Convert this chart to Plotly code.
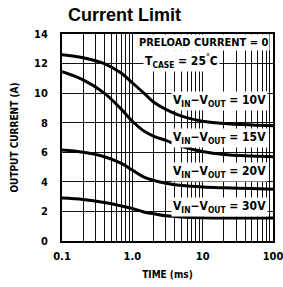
import plotly.graph_objects as go

time_ms = [0.1, 0.2, 0.4, 0.7, 1.0, 1.5, 2, 3, 5, 10, 20, 50, 100]
i_10v = [12.6, 12.4, 12.0, 11.35, 10.7, 9.95, 9.4, 8.9, 8.45, 8.1, 7.95, 7.85, 7.8]
i_15v = [11.45, 10.9, 10.0, 8.9, 8.1, 7.4, 7.1, 6.8, 6.4, 6.05, 5.85, 5.75, 5.7]
i_20v = [6.15, 6.0, 5.7, 5.25, 4.8, 4.3, 4.1, 3.9, 3.75, 3.65, 3.6, 3.55, 3.5]
i_30v = [2.9, 2.8, 2.6, 2.37, 2.2, 1.95, 1.85, 1.7, 1.62, 1.57, 1.55, 1.55, 1.55]

series = [("10V", i_10v), ("15V", i_15v), ("20V", i_20v), ("30V", i_30v)]

y_ticks = [0, 2, 4, 6, 8, 10, 12, 14]
x_tickvals = [0.1, 1, 10, 100]
x_ticktext = ["0.1", "1.0", "10", "100"]

FONT = "DejaVu Sans Condensed, Liberation Sans, Arial, sans-serif"

fig = go.Figure()
for name, vals in series:
    fig.add_trace(go.Scatter(x=time_ms, y=vals, mode="lines", name=name,
                             line=dict(color="black", width=3, shape="spline", smoothing=1.0),
                             showlegend=False))

x_minor = [round(d * k, 6) for d in [0.1, 1, 10] for k in range(2, 10)]

fig.update_xaxes(type="log", range=[-1, 2], tickvals=x_tickvals, ticktext=x_ticktext,
                 showgrid=True, gridcolor="#111", gridwidth=1,
                 minor=dict(tickvals=x_minor, showgrid=True, gridcolor="#111", gridwidth=1, ticks=""),
                 showline=True, linecolor="black", linewidth=2, mirror=True,
                 ticks="", ticklabelstandoff=4, ticklabeloverflow="allow", automargin=False,
                 tickfont=dict(family=FONT, size=11, color="black", weight="bold"),
                 title=dict(text="<b>TIME (ms)</b>", font=dict(family=FONT, size=10, color="black"), standoff=9),
                 zeroline=False)
fig.update_yaxes(range=[0, 14], tickvals=y_ticks,
                 showgrid=True, gridcolor="#111", gridwidth=1,
                 showline=True, linecolor="black", linewidth=2, mirror=True,
                 ticks="", ticklabelstandoff=10, automargin=False,
                 tickfont=dict(family=FONT, size=11, color="black", weight="bold"),
                 title=dict(text="<b>OUTPUT CURRENT (A)</b>", font=dict(family=FONT, size=10, color="black"), standoff=14),
                 zeroline=False)

ann_font = dict(family=FONT, size=12, color="black", weight="bold")
labels = [("V<sub>IN</sub>−V<sub>OUT</sub> = 10V", 9.5),
          ("V<sub>IN</sub>−V<sub>OUT</sub> = 15V", 6.95),
          ("V<sub>IN</sub>−V<sub>OUT</sub> = 20V", 4.65),
          ("V<sub>IN</sub>−V<sub>OUT</sub> = 30V", 2.3)]
for txt, yv in labels:
    fig.add_annotation(x=0.975, xref="paper", y=yv, yref="y", text=txt, showarrow=False,
                       xanchor="right", yanchor="middle", bgcolor="white", font=ann_font, borderpad=1)
fig.add_annotation(x=0.985, xref="paper", y=13.4, yref="y", text="PRELOAD CURRENT = 0", showarrow=False,
                   xanchor="right", yanchor="middle", bgcolor="white",
                   font=dict(family=FONT, size=11, color="black", weight="bold"), borderpad=1)
fig.add_annotation(x=0.385, xref="paper", y=12.2, yref="y", text="T<sub>CASE</sub> = 25<sup>°</sup>C", showarrow=False,
                   xanchor="left", yanchor="middle", bgcolor="white", font=ann_font, borderpad=1)

fig.update_layout(width=283, height=287, margin=dict(l=62, r=10, t=34, b=46, autoexpand=False),
                  paper_bgcolor="white", plot_bgcolor="white",
                  title=dict(text="<b>Current Limit</b>", xref="container", x=0.44, xanchor="center",
                             yref="container", y=0.95, yanchor="middle", automargin=False,
                             font=dict(family="Liberation Sans, Arial, sans-serif", size=18, color="black")))

fig.write_html("out.html", config={"displayModeBar": False, "staticPlot": True},
               post_script="document.body.style.margin='0px';document.body.style.overflow='hidden';")
